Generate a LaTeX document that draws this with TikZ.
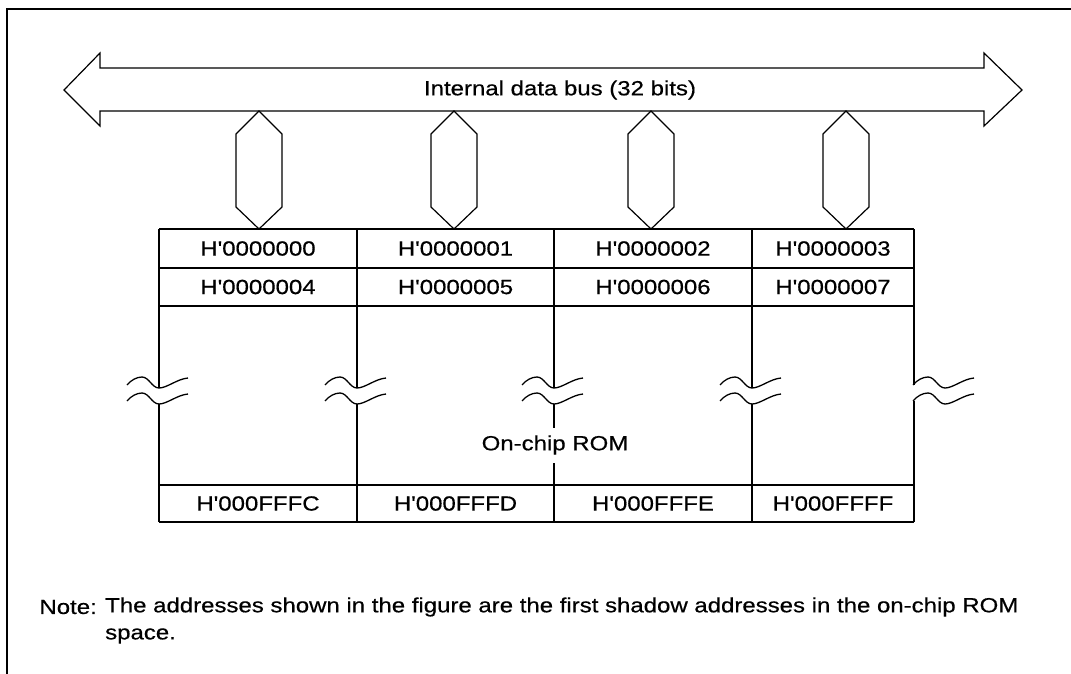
\documentclass[tikz,border=0pt]{standalone}
\usepackage{fontspec}
\setmainfont{Liberation Sans}[FakeStretch=1.17, FakeBold=0.5, Ligatures=TeXOff]
\begin{document}
\begin{tikzpicture}[x=1pt,y=-1pt,
  thinline/.style={line width=1.2pt, line join=miter},
  tabline/.style={line width=1.5pt},
  wave/.style={line width=1.3pt},
  frameline/.style={line width=2pt},
  lbl/.style={inner sep=0pt, font=\fontsize{20.5}{22}\selectfont}]
\useasboundingbox (0,0) rectangle (1071,674);
% frame (left and top only)
\draw[frameline] (7,674) -- (7,9) -- (1071,9);
% internal data bus double arrow
\draw[thinline] (64,90) -- (100,53) -- (100,68) -- (984,68) -- (984,53) -- (1022,90)
  -- (984,126) -- (984,111) -- (100,111) -- (100,126) -- cycle;
\node[lbl] (bus) at (560,90) {Internal data bus (32 bits)};
% hexagon connectors
\foreach \c in {259,454,651,846} {
  \draw[thinline] (\c,111) -- (\c+23,134) -- (\c+23,207) -- (\c,229) -- (\c-23,207) -- (\c-23,134) -- cycle;
}
% table horizontal lines
\draw[tabline] (159,229) -- (914,229);
\draw[tabline] (159,268) -- (914,268);
\draw[tabline] (159,306) -- (914,306);
\draw[tabline] (159,485) -- (914,485);
\draw[tabline] (159,522) -- (914,522);
% vertical lines of top rows and bottom row
\foreach \x in {159,357,554,752,914} {
  \draw[tabline] (\x,229) -- (\x,306);
  \draw[tabline] (\x,485) -- (\x,522);
}
\foreach \x in {159,357,554,752} {
  \draw[tabline] (\x,306) -- (\x,388);
}
\foreach \x in {159,357,752} {
  \draw[tabline] (\x,404) -- (\x,485);
}
\draw[tabline] (914,306) -- (914,385);
\draw[tabline] (914,401) -- (914,485);
\draw[tabline] (554,404) -- (554,428);
\draw[tabline] (554,463) -- (554,485);
% break marks
\foreach \x in {159,357,554,752,945} {
  \foreach \d in {0,16} {
    \draw[wave] (\x-32,401-\d) .. controls (\x-28,396-\d) and (\x-22,393-\d) .. (\x-17,393-\d)
      .. controls (\x-10,393-\d) and (\x-7,404-\d) .. (\x,404-\d)
      .. controls (\x+8,404-\d) and (\x+18,395-\d) .. (\x+29,394-\d);
  }
}
% cell texts
\node[lbl] (a0) at (258,248.5) {H'0000000};
\node[lbl] (a1) at (455.5,248.5) {H'0000001};
\node[lbl] (a2) at (653,248.5) {H'0000002};
\node[lbl] (a3) at (833,248.5) {H'0000003};
\node[lbl] (b0) at (258,287) {H'0000004};
\node[lbl] (b1) at (455.5,287) {H'0000005};
\node[lbl] (b2) at (653,287) {H'0000006};
\node[lbl] (b3) at (833,287) {H'0000007};
\node[lbl] (z0) at (258,503.5) {H'000FFFC};
\node[lbl] (z1) at (455.5,503.5) {H'000FFFD};
\node[lbl] (z2) at (653,503.5) {H'000FFFE};
\node[lbl] (z3) at (833,503.5) {H'000FFFF};
\node[lbl] (rom) at (555,445) {On-chip ROM};
% note
\node[lbl, anchor=east] (note) at (97,607) {Note:};
\node[lbl, anchor=west] (notet) at (105,607) {The addresses shown in the figure are the first shadow addresses in the on-chip ROM};
\node[lbl, anchor=west] (notet2) at (105,636) {space.};
\end{tikzpicture}
\end{document}
